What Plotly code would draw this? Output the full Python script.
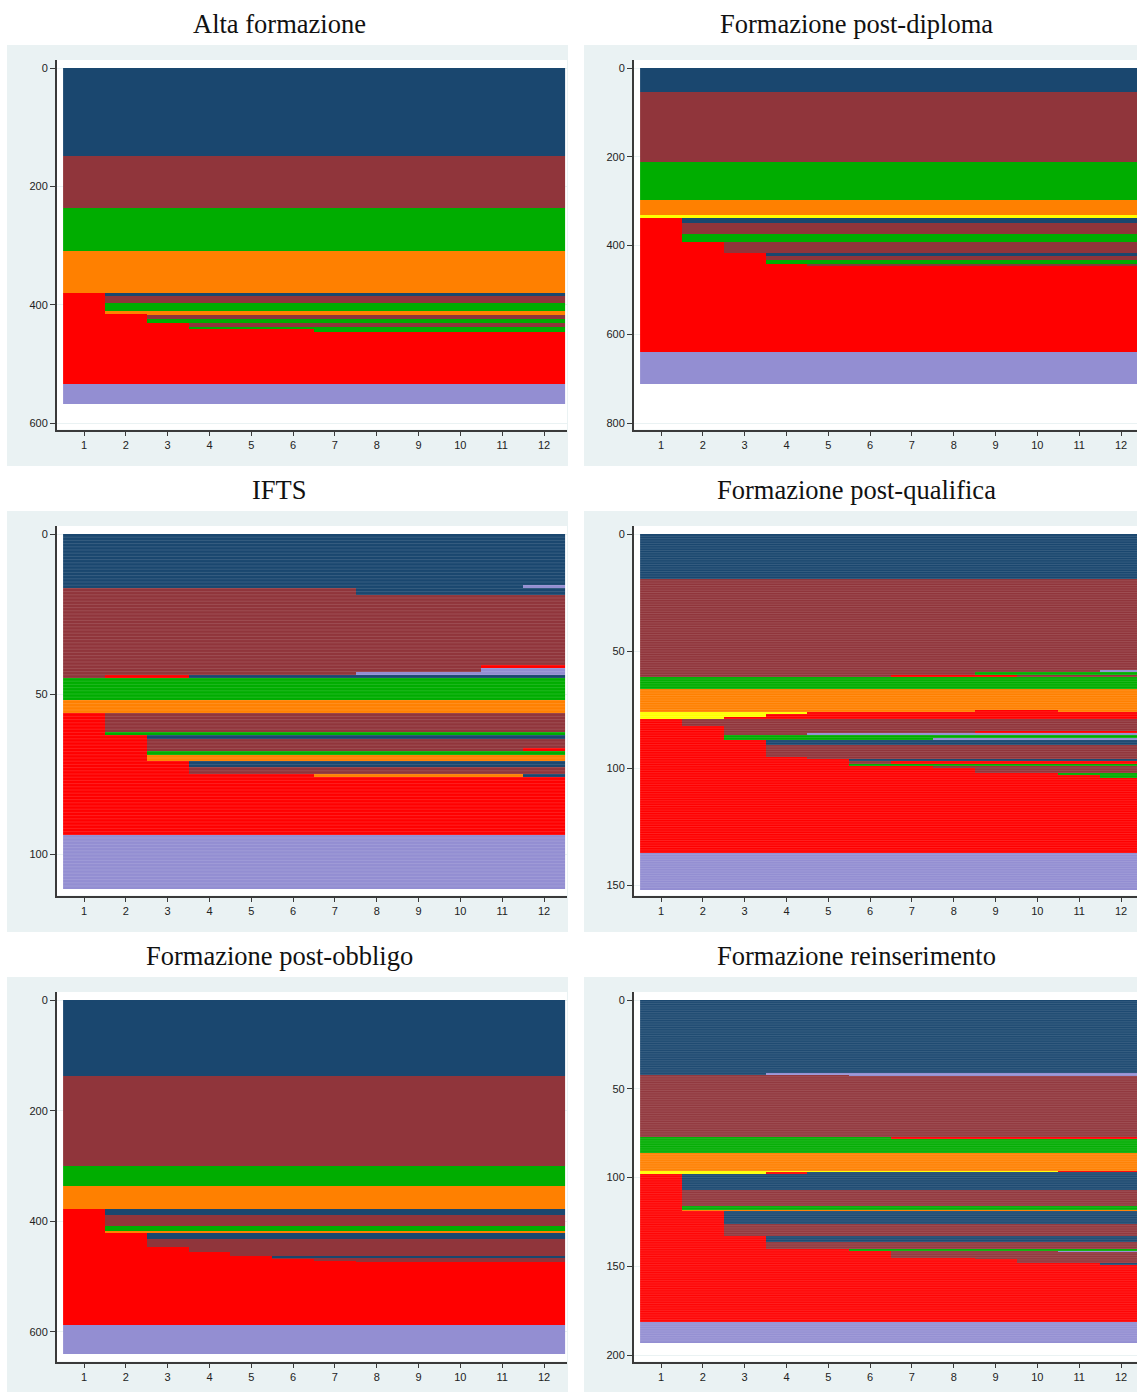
import plotly.graph_objects as go

# Monthly state codes used in the sequences
STATES = ["N", "M", "G", "O", "Y", "R", "L"]
STATE_COLORS = ["#1a476f", "#90353b", "#00ad00", "#ff8000", "#ffff00", "#ff0000", "#938ed2"]
MONTHS = list(range(1, 13))

# Each panel: number of individuals sharing a 12-month sequence, and the sequence itself
ALTA_COUNTS = [149, 87, 73, 72, 4, 12, 14, 5, 2, 6, 7, 7, 4, 4, 88, 34]
ALTA_SEQS = [
    "NNNNNNNNNNNN", "MMMMMMMMMMMM", "GGGGGGGGGGGG", "OOOOOOOOOOOO",
    "RNNNNNNNNNNN", "RMMMMMMMMMMM", "RGGGGGGGGGGG", "ROOOOOOOOOOO",
    "RROOOOOOOOOO", "RRMMMMMMMMMM", "RRGGGGGGGGGG", "RRRMMMMMMMMM",
    "RRRGGGGGGGGG", "RRRRRRGGGGGG", "RRRRRRRRRRRR", "LLLLLLLLLLLL",
]

DIPLOMA_COUNTS = [54, 158, 85, 33, 8, 10, 26, 18, 25, 7, 9, 7, 6, 192, 73]
DIPLOMA_SEQS = [
    "NNNNNNNNNNNN", "MMMMMMMMMMMM", "GGGGGGGGGGGG", "OOOOOOOOOOOO",
    "YYYYYYYYYYYY", "RNNNNNNNNNNN", "RMMMMMMMMMMM", "RGGGGGGGGGGG",
    "RRMMMMMMMMMM", "RRRNNNNNNNNN", "RRRMMMMMMMMM", "RRRGGGGGGGGG",
    "RRRRMMMMMMMM", "RRRRRRRRRRRR", "LLLLLLLLLLLL",
]

IFTS_COUNTS = [16, 1, 2, 22, 1, 1, 1, 1, 7, 4, 6, 1, 1, 3, 1, 1, 2, 2, 2, 1, 18, 17]
IFTS_SEQS = [
    "NNNNNNNNNNNN", "NNNNNNNNNNNL", "MMMMMMMNNNNN", "MMMMMMMMMMMM",
    "MMMMMMMMMMRR", "MMMMMMMMMMLL", "MMMMMMMLLLLL", "MRRNNNNNNNNN",
    "GGGGGGGGGGGG", "OOOOOOOOOOOO", "RMMMMMMMMMMM", "RGGGGGGGGGGG",
    "RRNNNNNNNNNN", "RRMMMMMMMMMM", "RRMMMMMMMMMR", "RRGGGGGGGGGG",
    "RROOOOOOOOOO", "RRRNNNNNNNNN", "RRRMMMMMMMMM", "RRRRRROOOOON",
    "RRRRRRRRRRRR", "LLLLLLLLLLLL",
]

QUALIFICA_COUNTS = [19, 39, 1, 1, 1, 5, 9, 1, 1, 1, 1, 3, 2, 1, 1, 1, 1, 2, 5, 1, 1, 1, 1, 1, 2, 1, 1, 32, 16]
QUALIFICA_SEQS = [
    "NNNNNNNNNNNN", "MMMMMMMMMMMM", "MMMMMMMMMMML", "MMMMMMMMGGGG",
    "MMMMMMRRRMMM", "GGGGGGGGGGGG", "OOOOOOOOOOOO", "OOOOOOOORROO",
    "YYYYRRRRRRRR", "YYYRRRRRRRRR", "YYRRRRRRRRRR", "RMMMMMMMMMMM",
    "RRMMMMMMMMMM", "RRMMMMMMRRRR", "RRMMLLLLLLLL", "RRGGGGGGGGGG",
    "RRGGGGGLLLLL", "RRRNNNNNNNNN", "RRRMMMMMMMMM", "RRRRMMMMMMMM",
    "RRRRRNNNNNNN", "RRRRRMRRRRRR", "RRRRRGGGGGGG", "RRRRRRRMMMMM",
    "RRRRRRRRMMMM", "RRRRRRRRRRGG", "RRRRRRRRRRRG", "RRRRRRRRRRRR",
    "LLLLLLLLLLLL",
]

OBBLIGO_COUNTS = [137, 163, 37, 41, 10, 20, 9, 5, 10, 14, 9, 7, 4, 2, 3, 2, 114, 53]
OBBLIGO_SEQS = [
    "NNNNNNNNNNNN", "MMMMMMMMMMMM", "GGGGGGGGGGGG", "OOOOOOOOOOOO",
    "RNNNNNNNNNNN", "RMMMMMMMMMMM", "RGGGGGGGGGGG", "ROOOOOOOOOOO",
    "RRNNNNNNNNNN", "RRMMMMMMMMMM", "RRRMMMMMMMMM", "RRRRMMMMMMMM",
    "RRRRRNNNNNNN", "RRRRRMMMMMMM", "RRRRRRMMMMMM", "RRRRRRRMMMMM",
    "RRRRRRRRRRRR", "LLLLLLLLLLLL",
]

REINSERIMENTO_COUNTS = [41, 1, 1, 34, 1, 8, 10, 1, 1, 9, 9, 2, 1, 7, 7, 3, 4, 1, 1, 3, 1, 2, 1, 32, 12]
REINSERIMENTO_SEQS = [
    "NNNNNNNNNNNN", "NNNLLLLLLLLL", "MMMMMLLLLLLL", "MMMMMMMMMMMM",
    "GGGGGGRRRRRR", "GGGGGGGGGGGG", "OOOOOOOOOOOO", "YYYYYYYYYYRR",
    "YYYRNNNNNNNN", "RNNNNNNNNNNN", "RMMMMMMMMMMM", "RGGGGGGGGGGG",
    "ROOOOOOOOOOO", "RRNNNNNNNNNN", "RRMMMMMMMMMM", "RRRNNNNNNNNN",
    "RRRMMMMMMMMM", "RRRRRGGGGGGG", "RRRRRRMMMMLL", "RRRRRRMMMMMM",
    "RRRRRRRRMMMM", "RRRRRRRRRMMM", "RRRRRRRRRRRN", "RRRRRRRRRRRR",
    "LLLLLLLLLLLL",
]

TITLES = [
    "Alta formazione", "Formazione post-diploma", "IFTS",
    "Formazione post-qualifica", "Formazione post-obbligo", "Formazione reinserimento",
]
PANEL_COUNTS = [ALTA_COUNTS, DIPLOMA_COUNTS, IFTS_COUNTS, QUALIFICA_COUNTS, OBBLIGO_COUNTS, REINSERIMENTO_COUNTS]
PANEL_SEQS = [ALTA_SEQS, DIPLOMA_SEQS, IFTS_SEQS, QUALIFICA_SEQS, OBBLIGO_SEQS, REINSERIMENTO_SEQS]
Y_TICKS = [
    [0, 200, 400, 600], [0, 200, 400, 600, 800], [0, 50, 100],
    [0, 50, 100, 150], [0, 200, 400, 600], [0, 50, 100, 150, 200],
]

# ---- page geometry (pixels) ----
W, H = 1137, 1392
GRAY_X = [(7, 568), (584, 1137)]
GRAY_TOP = [45, 511, 977]
GRAY_BOTTOM = [466, 932, 1392]
PLOT_RIGHT = [567, 1137]
MONTH1_PX = [84, 661]
PX_PER_MONTH = 41.82
# pixel row of value 0 and pixels per sequence, per panel
Y0_PX = [68, 68, 534, 534, 1000, 1000]
Y_SCALE = [0.5917, 0.44375, 3.2, 2.34, 0.5533, 1.775]

GRAY = "#eaf2f3"
AXIS_COLOR = "#3a3a3a"


def fx(px):
    return px / W


def fy(px):
    return 1 - px / H


n_states = len(STATES)
colorscale = []
for k, c in enumerate(STATE_COLORS):
    colorscale.append([k / n_states, c])
    colorscale.append([(k + 1) / n_states, c])

fig = go.Figure()
shapes = []
annotations = []
layout_axes = {}

for p in range(6):
    row, col = divmod(p, 2)
    gx0, gx1 = GRAY_X[col]
    gt, gb = GRAY_TOP[row], GRAY_BOTTOM[row]
    left = gx0 + 49.7
    right = PLOT_RIGHT[col]
    top = gt + 15
    bottom = gt + 384.5

    shapes.append(dict(type="rect", xref="paper", yref="paper", layer="below",
                       x0=fx(gx0), x1=fx(gx1), y0=fy(gb), y1=fy(gt),
                       fillcolor=GRAY, line=dict(width=0)))
    shapes.append(dict(type="rect", xref="paper", yref="paper", layer="below",
                       x0=fx(left), x1=fx(right), y0=fy(bottom), y1=fy(top),
                       fillcolor="white", line=dict(width=0)))

    # expand the sequence groups into one row per individual
    z = []
    for cnt, seq in zip(PANEL_COUNTS[p], PANEL_SEQS[p]):
        codes = [STATES.index(ch) for ch in seq]
        for _ in range(cnt):
            z.append(codes)
    n_rows = len(z)
    ys = [i + 0.5 for i in range(n_rows)]

    ax = "" if p == 0 else str(p + 1)
    fig.add_trace(go.Heatmap(
        z=z, x=MONTHS, y=ys, colorscale=colorscale, zmin=-0.5, zmax=n_states - 0.5,
        showscale=False, hoverinfo="skip", xaxis="x" + ax, yaxis="y" + ax,
    ))

    # thin highlight between individual sequence lines where rows are tall enough
    if Y_SCALE[p] > 1.5:
        lx, ly = [], []
        for i in range(1, n_rows):
            lx += [0.5, 12.5, None]
            ly += [i, i, None]
        fig.add_trace(go.Scatter(
            x=lx, y=ly, mode="lines", hoverinfo="skip",
            line=dict(color="rgba(255,255,255,0.16)", width=0.8),
            xaxis="x" + ax, yaxis="y" + ax,
        ))

    m1 = MONTH1_PX[col]
    xr = [1 - (m1 - left) / PX_PER_MONTH, 1 + (right - m1) / PX_PER_MONTH]
    y0, s = Y0_PX[p], Y_SCALE[p]
    yr = [(bottom - y0) / s, (top - y0) / s]

    tickfont = dict(family="Liberation Sans, Arial, sans-serif", size=11, color="#222")
    layout_axes["xaxis" + ax] = dict(
        domain=[fx(left), fx(right)], anchor="y" + ax, range=xr,
        tickmode="array", tickvals=MONTHS, ticktext=[str(m) for m in MONTHS],
        ticks="outside", ticklen=5, tickwidth=1.2, tickcolor=AXIS_COLOR,
        showline=True, linecolor=AXIS_COLOR, linewidth=1.5,
        showgrid=False, zeroline=False, tickfont=tickfont, fixedrange=True,
    )
    layout_axes["yaxis" + ax] = dict(
        domain=[fy(bottom), fy(top)], anchor="x" + ax, range=yr,
        tickmode="array", tickvals=Y_TICKS[p], ticktext=[str(v) for v in Y_TICKS[p]],
        ticks="outside", ticklen=5, tickwidth=1.2, tickcolor=AXIS_COLOR,
        showline=True, linecolor=AXIS_COLOR, linewidth=1.5,
        showgrid=True, gridcolor=GRAY, gridwidth=1, zeroline=False,
        tickfont=tickfont, fixedrange=True,
    )

    annotations.append(dict(
        text=TITLES[p], xref="paper", yref="paper",
        x=fx(279.5 if col == 0 else 856), y=fy(gt - 21),
        xanchor="center", yanchor="middle", showarrow=False,
        font=dict(family="Liberation Serif, Times New Roman, serif", size=26.5, color="#111"),
    ))

fig.update_layout(
    width=W, height=H, margin=dict(l=0, r=0, t=0, b=0),
    paper_bgcolor="white", plot_bgcolor="white",
    shapes=shapes, annotations=annotations, showlegend=False,
    **layout_axes,
)

fig.write_html("out.html")
